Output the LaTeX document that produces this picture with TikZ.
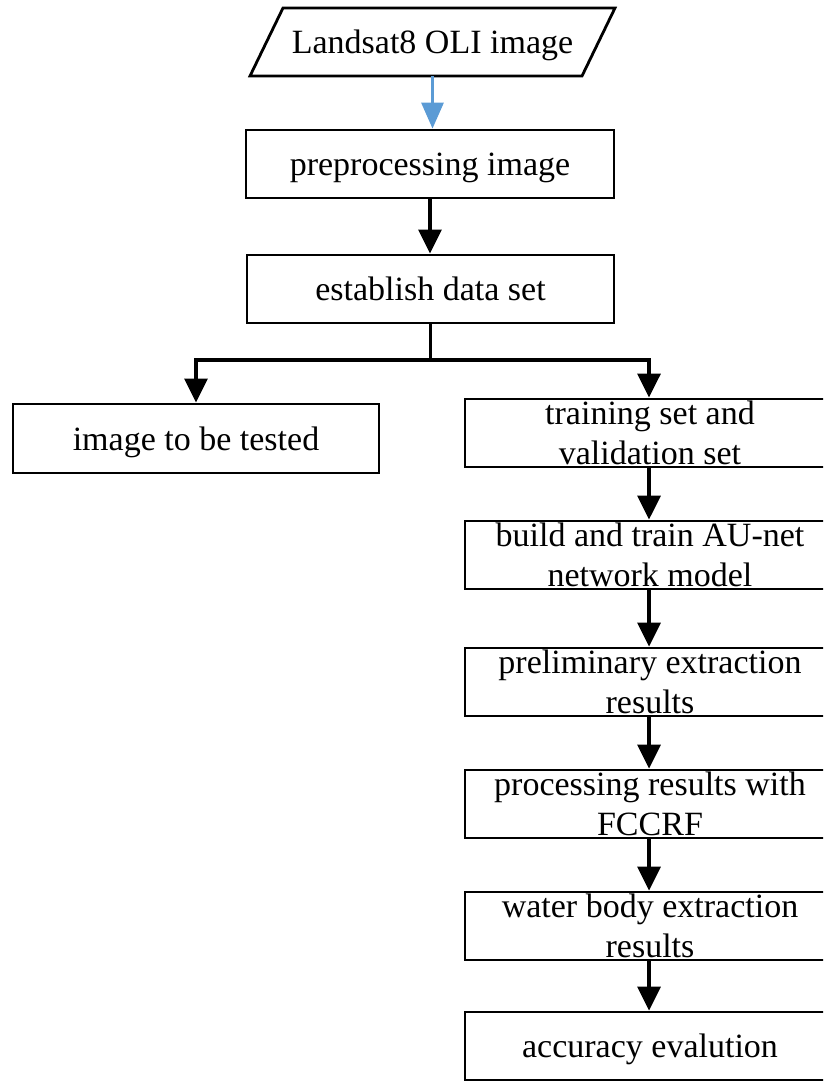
\documentclass[tikz,border=0pt]{standalone}
\usepackage{fontspec}
\setmainfont{Liberation Serif}
\usetikzlibrary{arrows.meta}
\definecolor{flowblue}{RGB}{91,155,213}
\newcommand\boxtext[1]{\smash{\raisebox{-10pt}{\begin{tabular}{@{}c@{}}#1\end{tabular}}}}
\begin{document}
\begin{tikzpicture}[x=1pt,y=-1pt,
  box/.style={draw=black, line width=2.8pt, rectangle, inner sep=0pt,
    minimum height=68pt, font=\fontsize{34}{40}\selectfont},
  ioshape/.style={line width=2.8pt, line join=miter},
  arr/.style={draw=black, line width=3.2pt, -{Triangle[width=23pt,length=24pt]}},
  arrblue/.style={draw=flowblue, line width=3pt, -{Triangle[width=22pt,length=26pt]}},
  plain/.style={draw=black, line width=3.2pt}]
\useasboundingbox (0,0) rectangle (823,1081);
\clip (0,0) rectangle (823,1081);

% input parallelogram
\node[box, draw=none, outer sep=0pt, minimum width=332pt] (land) at (432.5,42) {\boxtext{Landsat8 OLI image}};
\draw[ioshape] ([xshift=-16.5pt]land.south west) -- ([xshift=16.5pt]land.north west)
  -- ([xshift=16.5pt]land.north east) -- ([xshift=-16.5pt]land.south east) -- cycle;

% process boxes
\node[box, minimum width=368pt] (pre) at (430,164) {\boxtext{preprocessing image}};
\node[box, minimum width=367pt] (est) at (430.5,289) {\boxtext{establish data set}};
\node[box, minimum width=366pt, minimum height=69pt] (test) at (196,438.5) {\boxtext{image to be tested}};
\node[box, minimum width=370pt] (train) at (650,433) {\boxtext{training set and\\validation set}};
\node[box, minimum width=370pt] (build) at (650,555) {\boxtext{build and train AU-net\\network model}};
\node[box, minimum width=370pt] (prelim) at (650,682) {\boxtext{preliminary extraction\\results}};
\node[box, minimum width=370pt] (proc) at (650,804) {\boxtext{processing results with\\FCCRF}};
\node[box, minimum width=370pt] (water) at (650,926) {\boxtext{water body extraction\\results}};
\node[box, minimum width=370pt] (acc) at (650,1046) {\boxtext{accuracy evalution}};

% connectors
\coordinate (colx) at (649,0);
\draw[arrblue] (land.south) -- (land.south |- pre.north);
\draw[arr] (pre.south) -- (pre.south |- est.north);
\coordinate (fork) at (430.5,360);
\draw[plain] (est.south) -- (fork);
\draw[arr, line join=miter] (fork) -| (test.north);
\draw[arr, line join=miter] (fork) -| (colx |- train.north);
\draw[arr] (colx |- train.south) -- (colx |- build.north);
\draw[arr] (colx |- build.south) -- (colx |- prelim.north);
\draw[arr] (colx |- prelim.south) -- (colx |- proc.north);
\draw[arr] (colx |- proc.south) -- (colx |- water.north);
\draw[arr] (colx |- water.south) -- (colx |- acc.north);
\end{tikzpicture}
\end{document}
